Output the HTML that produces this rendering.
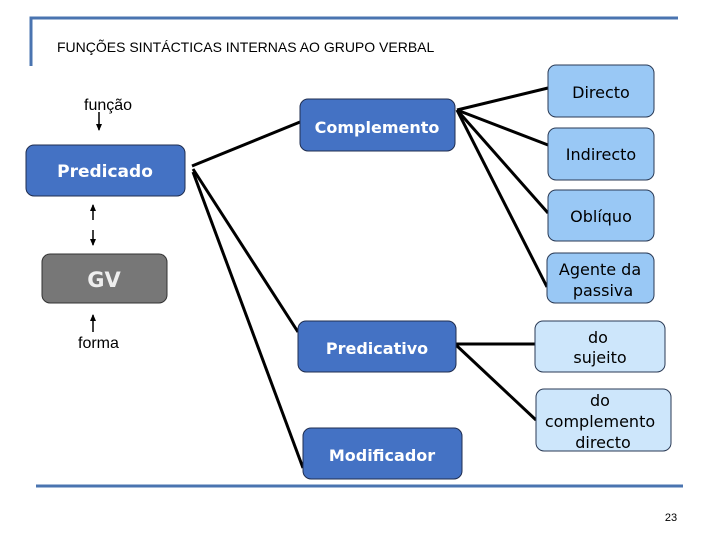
<!DOCTYPE html>
<html><head><meta charset="utf-8"><style>
body{margin:0;background:#fff}
svg{display:block}
</style></head><body>
<svg width="720" height="540" viewBox="0 0 720 540" xmlns="http://www.w3.org/2000/svg">
<defs>
<marker id="ah" markerWidth="8" markerHeight="8" refX="6" refY="4" orient="auto" markerUnits="userSpaceOnUse"><path d="M0,1 L7,4 L0,7 Z" fill="#000"/></marker>
</defs>
<g stroke="#4a74b0" stroke-width="3" fill="none">
<path d="M31,66 V18 H678"/>
<path d="M36,486 H683"/>
</g>
<text x="57" y="52" font-family="Liberation Sans, sans-serif" font-size="14" fill="#000">FUNÇÕES SINTÁCTICAS INTERNAS AO GRUPO VERBAL</text>
<!-- connectors -->
<g stroke="#000" stroke-width="3" fill="none">
<line x1="192" y1="166" x2="300" y2="122"/>
<line x1="193" y1="169" x2="298" y2="332"/>
<line x1="193" y1="172" x2="303" y2="468"/>
<line x1="457" y1="110" x2="548" y2="88"/>
<line x1="457" y1="110" x2="548" y2="145"/>
<line x1="457" y1="110" x2="548" y2="213"/>
<line x1="457" y1="110" x2="547" y2="287"/>
<line x1="456" y1="344" x2="535" y2="344"/>
<line x1="456" y1="345" x2="536" y2="420"/>
</g>
<g stroke="#000" stroke-width="1.5">
<line x1="99" y1="112" x2="99" y2="130" marker-end="url(#ah)"/>
<line x1="93" y1="220" x2="93" y2="205" marker-end="url(#ah)"/>
<line x1="93" y1="230" x2="93" y2="245" marker-end="url(#ah)"/>
<line x1="93" y1="332" x2="93" y2="315" marker-end="url(#ah)"/>
</g>
<g font-family="Liberation Sans, sans-serif" font-size="16" fill="#000">
<text x="84" y="110">função</text>
<text x="78" y="348">forma</text>
</g>
<!-- dark blue boxes -->
<g fill="#4472c4" stroke="#1f2d4f" stroke-width="1">
<rect x="26" y="145" width="159" height="51" rx="8"/>
<rect x="300" y="99" width="155" height="52" rx="8"/>
<rect x="298" y="321" width="158" height="51" rx="8"/>
<rect x="303" y="428" width="159" height="51" rx="8"/>
</g>
<rect x="42" y="254" width="125" height="49" rx="8" fill="#777" stroke="#333"/>
<g fill="#99c8f5" stroke="#2a3a55" stroke-width="1">
<rect x="548" y="65" width="106" height="52" rx="8"/>
<rect x="548" y="128" width="106" height="52" rx="8"/>
<rect x="548" y="190" width="106" height="51" rx="8"/>
<rect x="547" y="253" width="107" height="50" rx="8"/>
</g>
<g fill="#cde6fb" stroke="#2a3a55" stroke-width="1">
<rect x="535" y="321" width="130" height="51" rx="8"/>
<rect x="536" y="389" width="135" height="62" rx="8"/>
</g>
<g font-family="DejaVu Sans, sans-serif" font-weight="bold" fill="#fff" text-anchor="middle">
<text x="105" y="177" font-size="17">Predicado</text>
<text x="377" y="133" font-size="16">Complemento</text>
<text x="377" y="354" font-size="16">Predicativo</text>
<text x="382" y="461" font-size="16">Modificador</text>
<text x="104" y="287" font-size="21" fill="#eee">GV</text>
</g>
<g font-family="DejaVu Sans, sans-serif" font-size="16" fill="#000" text-anchor="middle">
<text x="601" y="98">Directo</text>
<text x="601" y="160">Indirecto</text>
<text x="601" y="222">Oblíquo</text>
<text x="600" y="275">Agente da</text>
<text x="603" y="296">passiva</text>
<text x="598" y="343">do</text>
<text x="600" y="363">sujeito</text>
<text x="600" y="406">do</text>
<text x="600" y="427">complemento</text>
<text x="603" y="448">directo</text>
</g>
<text x="671" y="521" font-family="Liberation Sans, sans-serif" font-size="11" fill="#000" text-anchor="middle">23</text>
</svg>
</body></html>
